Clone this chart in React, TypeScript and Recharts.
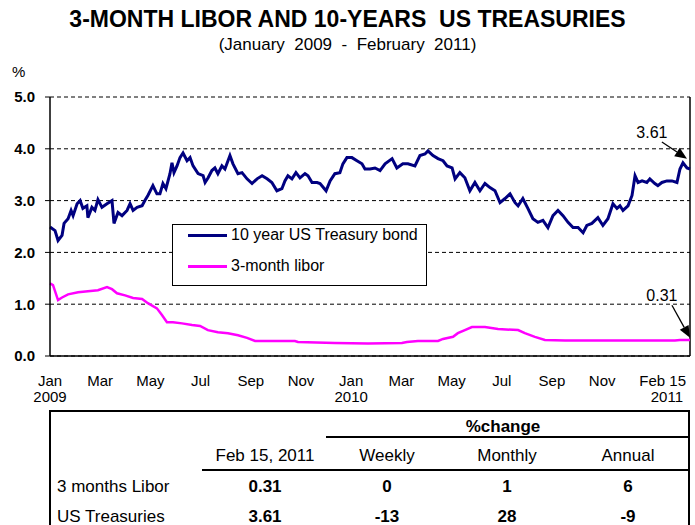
import React from "react";
import { LineChart, Line, XAxis, YAxis, CartesianGrid, ReferenceLine } from "recharts";

const FONT = '"Liberation Sans", Arial, sans-serif';

// months since Jan 1 2009 -> yield (%)
const treasuryMonths = [0.00,0.20,0.32,0.48,0.56,0.72,0.84,0.92,1.08,1.20,1.31,1.47,1.51,1.67,1.79,1.91,2.07,2.27,2.47,2.55,2.71,2.87,3.07,3.19,3.31,3.47,3.67,3.78,3.90,4.10,4.26,4.38,4.50,4.62,4.78,4.86,4.94,5.06,5.18,5.30,5.46,5.58,5.70,5.90,6.10,6.18,6.30,6.45,6.57,6.69,6.85,6.97,7.17,7.29,7.49,7.65,7.85,8.05,8.25,8.45,8.65,8.84,9.04,9.24,9.36,9.48,9.64,9.80,9.96,10.16,10.28,10.44,10.64,10.76,11.00,11.16,11.35,11.55,11.67,11.83,12.03,12.23,12.43,12.55,12.75,12.95,13.15,13.35,13.63,13.82,14.06,14.26,14.54,14.74,14.94,15.06,15.26,15.46,15.66,15.82,16.02,16.14,16.33,16.53,16.73,16.93,17.13,17.33,17.53,17.73,17.93,18.13,18.33,18.53,18.65,18.84,19.04,19.24,19.44,19.64,19.84,20.04,20.24,20.44,20.64,20.84,21.04,21.24,21.39,21.59,21.83,22.03,22.23,22.43,22.59,22.71,22.83,23.03,23.19,23.31,23.43,23.59,23.78,23.90,24.10,24.22,24.38,24.58,24.78,24.98,25.10,25.22,25.38,25.50];
const treasuryValues = [2.49,2.42,2.23,2.33,2.56,2.65,2.81,2.71,2.94,3.00,2.85,2.90,2.67,2.87,2.81,3.02,2.87,2.94,3.00,2.56,2.77,2.71,2.81,2.94,2.81,2.87,2.90,3.00,3.10,3.29,3.13,3.13,3.33,3.23,3.52,3.73,3.54,3.67,3.83,3.92,3.77,3.83,3.67,3.52,3.48,3.35,3.44,3.58,3.63,3.52,3.67,3.61,3.87,3.71,3.52,3.54,3.42,3.33,3.42,3.48,3.42,3.35,3.19,3.23,3.38,3.48,3.42,3.54,3.44,3.52,3.48,3.35,3.35,3.33,3.19,3.38,3.52,3.54,3.71,3.83,3.83,3.77,3.71,3.61,3.61,3.63,3.58,3.71,3.81,3.63,3.71,3.71,3.67,3.87,3.90,3.96,3.87,3.81,3.77,3.67,3.63,3.42,3.54,3.44,3.19,3.35,3.19,3.33,3.25,3.19,2.96,3.04,3.13,2.96,2.90,3.04,2.85,2.65,2.58,2.62,2.48,2.71,2.81,2.71,2.58,2.48,2.48,2.38,2.52,2.56,2.67,2.52,2.65,2.94,2.85,2.90,2.81,2.90,3.10,3.48,3.35,3.38,3.35,3.42,3.33,3.29,3.35,3.38,3.38,3.35,3.61,3.73,3.63,3.61];

const liborMonths = [0.00,0.12,0.32,0.48,0.72,1.12,1.51,1.91,2.27,2.47,2.67,2.99,3.31,3.67,3.90,4.26,4.46,4.66,4.90,5.26,5.66,5.98,6.29,6.69,7.09,7.49,7.85,8.17,9.76,9.88,11.35,12.67,14.02,14.22,14.66,15.46,15.66,16.06,16.25,16.53,16.81,17.33,17.85,18.65,18.92,19.32,19.72,20.52,23.19,24.90,25.10,25.50];
const liborValues = [1.40,1.37,1.08,1.13,1.19,1.23,1.25,1.27,1.33,1.29,1.21,1.17,1.12,1.10,1.02,0.92,0.79,0.65,0.65,0.63,0.60,0.58,0.50,0.46,0.44,0.40,0.35,0.29,0.29,0.27,0.25,0.24,0.25,0.27,0.29,0.29,0.33,0.37,0.44,0.50,0.56,0.56,0.52,0.50,0.44,0.37,0.31,0.30,0.30,0.30,0.31,0.31];

const monthTicks = [0, 2, 4, 6, 8, 10, 12, 14, 16, 18, 20, 22, 25.5];
const monthLabels = ["Jan", "Mar", "May", "Jul", "Sep", "Nov", "Jan", "Mar", "May", "Jul", "Sep", "Nov", "Feb 15"];
const yearLabels = ["2009", "", "", "", "", "", "2010", "", "", "", "", "", "2011"];
const yTicks = [0, 1, 2, 3, 4, 5];

// end-of-period callouts: [start month, start %, end month, end %]
const treasuryCallout = [24.38, 4.13, 25.38, 3.81];
const liborCallout = [24.78, 0.98, 25.5, 0.35];
const lastTreasury = 3.61;
const lastLibor = 0.31;

const tableHeaders = ["Feb 15, 2011", "Weekly", "Monthly", "Annual"];
const tableRows = ["3 months Libor", "US Treasuries"];
const tableLevel = [0.31, 3.61];
const tableWeekly = [0, -13];
const tableMonthly = [1, 28];
const tableAnnual = [6, -9];

const treasuryData = treasuryMonths.map((m, i) => ({ m, v: treasuryValues[i] }));
const liborData = liborMonths.map((m, i) => ({ m, v: liborValues[i] }));

const MonthTick = (props: any) => {
  const { x, y, index } = props;
  const last = index === monthTicks.length - 1;
  const anchor = last ? "end" : "middle";
  const tx = last ? x - 4 : x;
  return (
    <g>
      <text x={tx} y={y + 22} textAnchor={anchor} fontSize={15} fill="#000" fontFamily={FONT}>
        {monthLabels[index]}
      </text>
      {yearLabels[index] && (
        <text x={last ? x - 7 : x} y={y + 38} textAnchor={anchor} fontSize={15} fill="#000" fontFamily={FONT}>
          {yearLabels[index]}
        </text>
      )}
    </g>
  );
};

const arrowShape = (label: string) => (p: any) => {
  const { x1, y1, x2, y2 } = p;
  const a = Math.atan2(y2 - y1, x2 - x1);
  const c = Math.cos(a), s = Math.sin(a);
  const len = 12, w = 5;
  const bx = x2 - len * c, by = y2 - len * s;
  const pts = `${x2},${y2} ${bx - w * s},${by + w * c} ${bx + w * s},${by - w * c}`;
  return (
    <g>
      <line x1={x1} y1={y1} x2={bx} y2={by} stroke="#000" strokeWidth={1.3} />
      <polygon points={pts} fill="#000" />
      <text x={x1 - 10} y={y1 - 4} textAnchor="middle" fontSize={16} fill="#000" fontFamily={FONT}>
        {label}
      </text>
    </g>
  );
};

const abs = (left: number, top: number, extra: React.CSSProperties = {}): React.CSSProperties => ({
  position: "absolute",
  left,
  top,
  ...extra,
});

const colCenters = [265, 387, 507, 628];

export default function App() {
  const cell = (txt: string | number, cx: number, cy: number, bold = false) => (
    <div
      key={`${cx}-${cy}`}
      style={abs(cx - 60, cy - 11, { width: 120, textAlign: "center", fontWeight: bold ? "bold" : "normal", lineHeight: "22px" })}
    >
      {txt}
    </div>
  );

  return (
    <div style={{ position: "absolute", left: 0, top: 0, width: 695, height: 525, background: "#fff", fontFamily: FONT, color: "#000", overflow: "hidden" }}>
      <div style={abs(0, 5, { width: 695, textAlign: "center", fontSize: 23, fontWeight: "bold", whiteSpace: "pre", lineHeight: "28px" })}>
        {"3-MONTH LIBOR AND 10-YEARS  US TREASURIES"}
      </div>
      <div style={abs(0, 34, { width: 695, textAlign: "center", fontSize: 17, whiteSpace: "pre", lineHeight: "22px" })}>
        {"(January  2009  -  February  2011)"}
      </div>
      <div style={abs(12, 63, { fontSize: 15, lineHeight: "18px" })}>%</div>

      <div style={abs(0, 0)}>
        <LineChart width={695} height={420} margin={{ top: 97, right: 5, left: 0, bottom: 0 }}>
          <CartesianGrid horizontal vertical={false} stroke="#000" strokeDasharray="4 3" strokeWidth={1} />
          <XAxis
            dataKey="m"
            type="number"
            domain={[0, 25.5]}
            ticks={monthTicks}
            interval={0}
            tickLine={false}
            axisLine={{ stroke: "#000", strokeWidth: 1.5 }}
            tick={<MonthTick />}
            height={64}
            allowDuplicatedCategory={false}
          />
          <YAxis
            type="number"
            domain={[0, 5]}
            ticks={yTicks}
            width={50}
            tickSize={5}
            tickMargin={10}
            tickFormatter={(v: number) => v.toFixed(1)}
            tick={{ fontSize: 15, fontWeight: "bold", fill: "#000", fontFamily: FONT }}
            tickLine={{ stroke: "#000" }}
            axisLine={{ stroke: "#000", strokeWidth: 1.5 }}
          />
          <ReferenceLine x={25.5} stroke="#000" strokeWidth={1.5} />
          <Line data={treasuryData} dataKey="v" type="linear" stroke="#000080" strokeWidth={3} dot={false} isAnimationActive={false} />
          <Line data={liborData} dataKey="v" type="linear" stroke="#FF00FF" strokeWidth={2.5} dot={false} isAnimationActive={false} />
          <ReferenceLine
            segment={[{ x: treasuryCallout[0], y: treasuryCallout[1] }, { x: treasuryCallout[2], y: treasuryCallout[3] }]}
            ifOverflow="visible"
            shape={arrowShape(lastTreasury.toFixed(2))}
          />
          <ReferenceLine
            segment={[{ x: liborCallout[0], y: liborCallout[1] }, { x: liborCallout[2], y: liborCallout[3] }]}
            ifOverflow="visible"
            shape={arrowShape(lastLibor.toFixed(2))}
          />
        </LineChart>
      </div>

      {/* legend */}
      <div style={abs(172, 224, { width: 255, height: 62, border: "1.5px solid #000", background: "#fff", boxSizing: "border-box", fontSize: 16 })}>
        <div style={abs(15, 9, { width: 39, height: 3, background: "#000080" })} />
        <div style={abs(58, 0, { lineHeight: "20px" })}>10 year US Treasury bond</div>
        <div style={abs(15, 40, { width: 39, height: 3, background: "#FF00FF" })} />
        <div style={abs(58, 31, { lineHeight: "20px" })}>3-month libor</div>
      </div>

      {/* summary table */}
      <div style={abs(49, 410, { width: 641, height: 130, borderTop: "2px solid #000", borderLeft: "2px solid #000", borderRight: "2px solid #000", boxSizing: "border-box" })} />
      <div style={abs(326, 436, { width: 364, height: 2, background: "#000" })} />
      <div style={abs(202, 469, { width: 488, height: 2, background: "#000" })} />
      <div style={{ fontSize: 17 }}>
        {cell("%change", 503, 427, true)}
        {tableHeaders.map((h, i) => cell(h, colCenters[i], 456))}
        {tableRows.map((r, i) => (
          <div key={r} style={abs(57, (i === 0 ? 487 : 517) - 11, { lineHeight: "22px" })}>{r}</div>
        ))}
        {tableRows.map((_, i) => {
          const cy = i === 0 ? 487 : 517;
          return (
            <React.Fragment key={i}>
              {cell(tableLevel[i].toFixed(2), colCenters[0], cy, true)}
              {cell(tableWeekly[i], colCenters[1], cy, true)}
              {cell(tableMonthly[i], colCenters[2], cy, true)}
              {cell(tableAnnual[i], colCenters[3], cy, true)}
            </React.Fragment>
          );
        })}
      </div>
    </div>
  );
}
